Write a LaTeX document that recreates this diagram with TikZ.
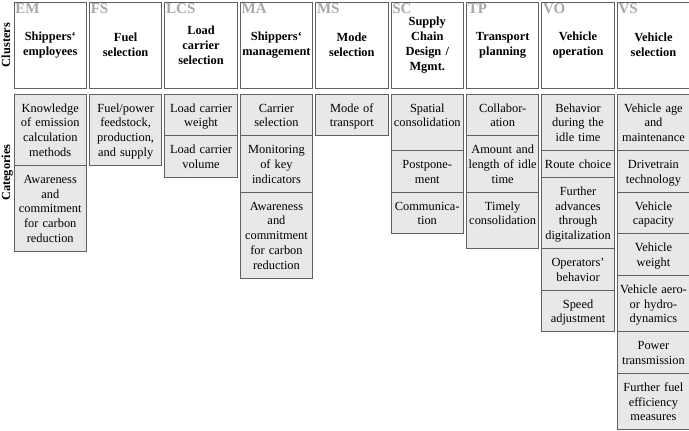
\documentclass[tikz,border=0pt]{standalone}
\usepackage{fontspec}
\setmainfont{Liberation Serif}
\usetikzlibrary{positioning,calc}
\definecolor{edgegray}{gray}{0.38}
\definecolor{cellgray}{gray}{0.91}
\definecolor{taggray}{gray}{0.66}

\begin{document}
\begin{tikzpicture}[x=1pt, y=1pt, node distance=6pt and 2.9pt,
  head/.style={draw=edgegray, line width=0.9pt, minimum width=72.5pt, minimum height=86pt, text width=70pt, inner sep=0pt, outer sep=0pt, align=center, font=\fontsize{12.4}{15}\selectfont\bfseries},
  cell/.style={draw=edgegray, line width=0.9pt, fill=cellgray, minimum width=72.5pt, text width=70pt, inner xsep=1.25pt, inner ysep=3pt, outer sep=0pt, align=center, text height=15pt, font=\fontsize{12.4}{14.8}\selectfont},
  rows/.style={text depth=#1*14.8pt-9pt},
  tag/.style={anchor=north west, inner sep=1.2pt, text=taggray, font=\fontsize{15}{15}\selectfont\bfseries},
  side/.style={rotate=90, anchor=base, inner sep=0pt, font=\fontsize{12.4}{14}\selectfont\bfseries}]
\useasboundingbox (0,0) rectangle (689,-431);

\node[head, anchor=north west] (em) at (14,-2) {Shippers‘\\employees};
\node[head, right=of em] (fs) {Fuel\\selection};
\node[head, right=of fs] (lcs) {Load\\carrier\\selection};
\node[head, right=of lcs] (ma) {Shippers‘\\management};
\node[head, right=of ma] (ms) {Mode\\selection};
\node[head, right=of ms] (sc) {Supply\\Chain\\Design /\\Mgmt.};
\node[head, right=of sc] (tp) {Transport\\planning};
\node[head, right=of tp] (vo) {Vehicle\\operation};
\node[head, right=of vo] (vs) {Vehicle\\selection};

\node[tag] (emtag) at (em.north west) {EM};
\node[tag] (fstag) at (fs.north west) {FS};
\node[tag] (lcstag) at (lcs.north west) {LCS};
\node[tag] (matag) at (ma.north west) {MA};
\node[tag] (mstag) at (ms.north west) {MS};
\node[tag] (sctag) at (sc.north west) {SC};
\node[tag] (tptag) at (tp.north west) {TP};
\node[tag] (votag) at (vo.north west) {VO};
\node[tag] (vstag) at (vs.north west) {VS};

\node[cell, rows=4, below=of em] (emk) {Knowledge\\of emission\\calculation\\methods};
\node[cell, rows=5, below=0pt of emk] (ema) {Awareness\\and\\commitment\\for carbon\\reduction};

\node[cell, rows=4, below=of fs] (fsf) {Fuel/power\\feedstock,\\production,\\and supply};

\node[cell, rows=2, below=of lcs] (lcsw) {Load carrier\\weight};
\node[cell, rows=2, below=0pt of lcsw] (lcsv) {Load carrier\\volume};

\node[cell, rows=2, below=of ma] (mac) {Carrier\\selection};
\node[cell, rows=3, below=0pt of mac] (mam) {Monitoring\\of key\\indicators};
\node[cell, rows=5, below=0pt of mam] (maa) {Awareness\\and\\commitment\\for carbon\\reduction};

\node[cell, rows=2, below=of ms] (mst) {Mode of\\transport};

\node[cell, rows=3, below=of sc] (scs) {Spatial\\consolidation};
\node[cell, rows=2, below=0pt of scs] (scp) {Postpone-\\ment};
\node[cell, rows=2, below=0pt of scp] (scc) {Communica-\\tion};

\node[cell, rows=2, below=of tp] (tpc) {Collabor-\\ation};
\node[cell, rows=3, below=0pt of tpc] (tpa) {Amount and\\length of idle\\time};
\node[cell, rows=3, below=0pt of tpa] (tpt) {Timely\\consolidation};

\node[cell, rows=3, below=of vo] (vob) {Behavior\\during the\\idle time};
\node[cell, rows=1, below=0pt of vob] (vor) {Route choice};
\node[cell, rows=4, below=0pt of vor] (vof) {Further\\advances\\through\\digitalization};
\node[cell, rows=2, below=0pt of vof] (voo) {Operators’\\behavior};
\node[cell, rows=2, below=0pt of voo] (vos) {Speed\\adjustment};

\node[cell, rows=3, below=of vs] (vsa) {Vehicle age\\and\\maintenance};
\node[cell, rows=2, below=0pt of vsa] (vsd) {Drivetrain\\technology};
\node[cell, rows=2, below=0pt of vsd] (vsc) {Vehicle\\capacity};
\node[cell, rows=2, below=0pt of vsc] (vsw) {Vehicle\\weight};
\node[cell, rows=3, below=0pt of vsw] (vsh) {Vehicle aero-\\or hydro-\\dynamics};
\node[cell, rows=2, below=0pt of vsh] (vsp) {Power\\transmission};
\node[cell, rows=3, below=0pt of vsp] (vsf) {Further fuel\\efficiency\\measures};

\node[side] (clusters) at ([xshift=-4pt]em.west) {Clusters};
\node[side] (categories) at ([xshift=-4pt]$(emk.north west)!0.5!(ema.south west)$) {Categories};
\end{tikzpicture}
\end{document}
